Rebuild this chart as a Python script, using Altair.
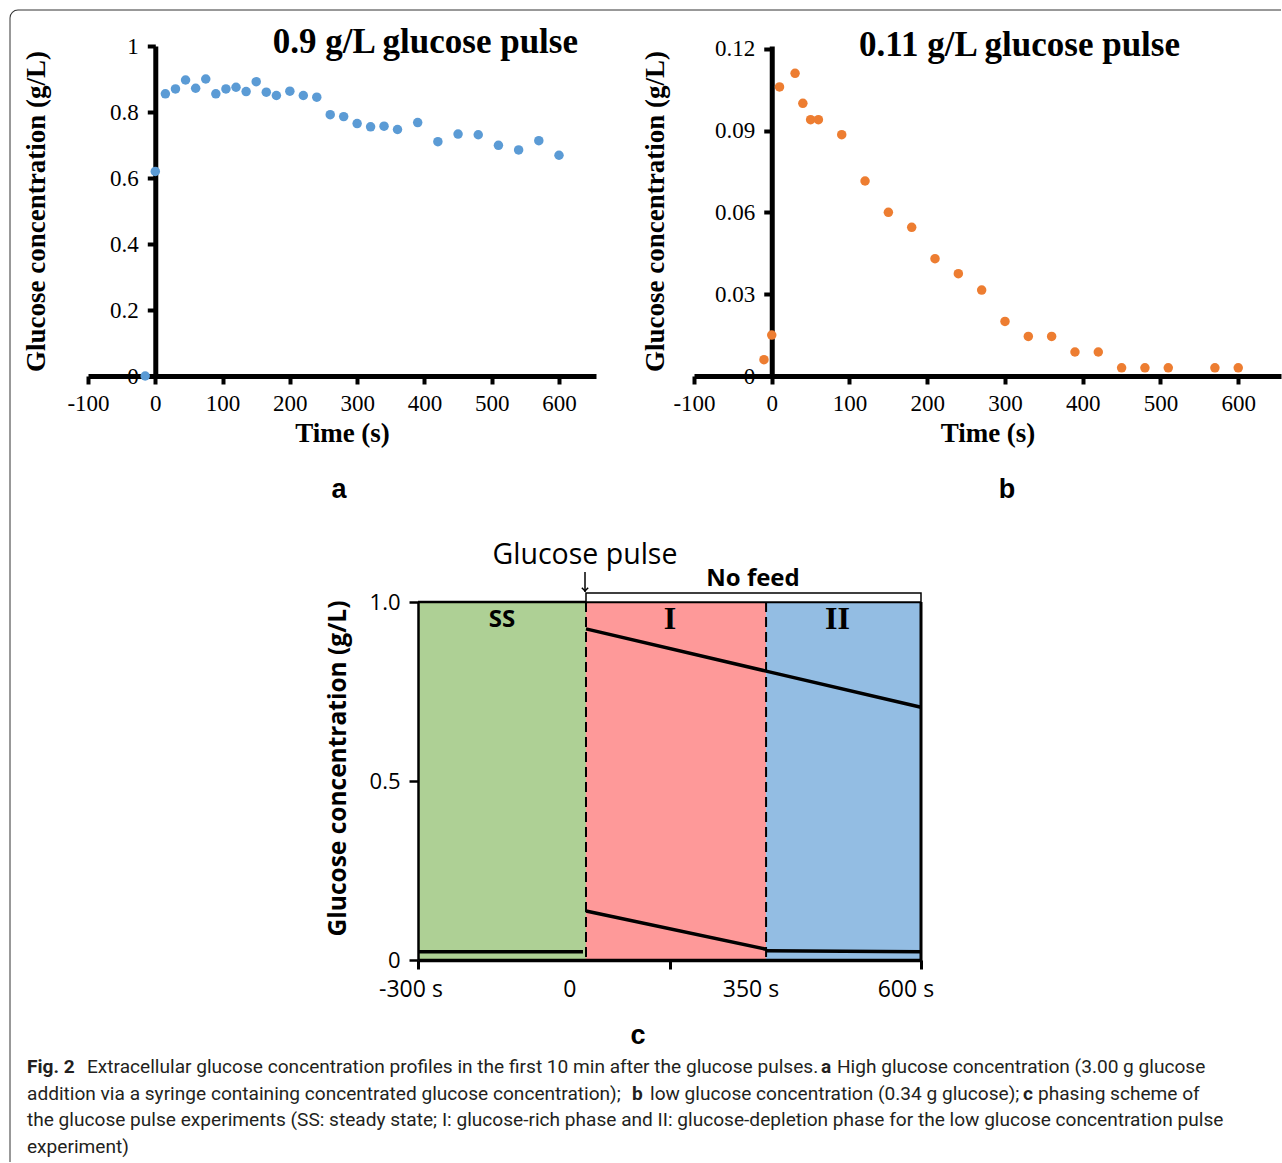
import altair as alt
import pandas as pd

# ---------------- data ----------------
# panel a : 0.9 g/L glucose pulse
time_a = [-15, 0, 15, 30, 45, 60, 75, 90, 105, 120, 135, 150, 165, 180, 200, 220, 240,
          260, 280, 300, 320, 340, 360, 390, 420, 450, 480, 510, 540, 570, 600]
glucose_a = [0.0, 0.62, 0.855, 0.87, 0.897, 0.872, 0.9, 0.855, 0.87, 0.875, 0.862, 0.892,
             0.86, 0.85, 0.863, 0.85, 0.845, 0.792, 0.786, 0.765, 0.755, 0.757, 0.747,
             0.768, 0.71, 0.733, 0.731, 0.699, 0.685, 0.713, 0.669]
# panel b : 0.11 g/L glucose pulse
time_b = [-10, 0, 10, 30, 40, 50, 60, 90, 120, 150, 180, 210, 240, 270, 300, 330, 360,
          390, 420, 450, 480, 510, 570, 600]
glucose_b = [0.006, 0.015, 0.106, 0.111, 0.100, 0.094, 0.094, 0.0885, 0.0715, 0.060,
             0.0545, 0.043, 0.0375, 0.0315, 0.020, 0.0145, 0.0145, 0.0088, 0.0088,
             0.003, 0.003, 0.003, 0.003, 0.003]
time_ticks = [-100, 0, 100, 200, 300, 400, 500, 600]
conc_ticks_a = [0, 0.2, 0.4, 0.6, 0.8, 1]
conc_ticks_b = [0, 0.03, 0.06, 0.09, 0.12]

# panel c : phasing scheme (schematic position 0-100 along the time axis)
phase_names = ["SS", "I", "II"]
phase_start = [0, 33.4, 69.2]
phase_end = [33.4, 69.2, 100]
phase_colors = ["#aed095", "#fe9999", "#93bde3"]
phase_boundaries = [33.4, 69.2]
profile_ids = ["ss", "ss", "high", "high", "high", "low", "low", "low_ii", "low_ii"]
profile_pos = [0, 32.8, 33.4, 69.2, 100, 33.4, 69.2, 69.2, 100]
profile_conc = [0.023, 0.023, 0.925, 0.807, 0.706, 0.137, 0.030, 0.026, 0.023]
scheme_tick_pos = [0, 50, 100]
scheme_tick_labels = ["-300 s", "0", "350 s", "600 s"]
scheme_tick_label_pos = [-1.4, 30.2, 66.2, 97.0]

caption_lines = [
    [("Fig. 2", True), ("Extracellular glucose concentration profiles in the first 10 min after the glucose pulses.", False),
     ("a", True), ("High glucose concentration (3.00 g glucose", False)],
    [("addition via a syringe containing concentrated glucose concentration);", False), ("b", True),
     ("low glucose concentration (0.34 g glucose);", False), ("c", True), ("phasing scheme of", False)],
    [("the glucose pulse experiments (SS: steady state; I: glucose-rich phase and II: glucose-depletion phase for the low glucose concentration pulse", False)],
    [("experiment)", False)],
]
caption_x = [[27, 87, 821, 837], [27, 632, 650, 1023, 1038], [27], [27]]

# ---------------- layout constants (page pixels) ----------------
SERIF = "Liberation Serif"
SANS = "Open Sans"
CAP = "Roboto"
XDOM = [-100, 655]
W_A, W_B, H_AB = 508, 587, 330
A_X0, A_Y0 = 88, 46
B_X0 = 694
W_C, H_C = 503, 358
C_X0, C_Y0 = 418, 602

one = pd.DataFrame({"k": [0]})


def scatter_panel(times, vals, ydom, yticks, color, width, x0, title, title_right, title_base,
                  letter, letter_x, ytitle_x):
    df = pd.DataFrame({"t": times, "g": vals})
    zero_px = width * (0 - XDOM[0]) / (XDOM[1] - XDOM[0])
    x = alt.X("t:Q", scale=alt.Scale(domain=XDOM, nice=False, zero=False),
              axis=alt.Axis(values=time_ticks, title="Time (s)", labelExpr="datum.value + ''",
                            domainWidth=5, domainColor="black", tickColor="black", tickWidth=4,
                            tickSize=8, labelFont=SERIF, labelFontSize=23, labelColor="black",
                            labelPadding=8, titleFont=SERIF, titleFontSize=27, titleFontWeight="bold",
                            titleColor="black", titlePadding=5, grid=False, labelFlush=False,
                            labelOverlap=False))
    y = alt.Y("g:Q", scale=alt.Scale(domain=ydom, nice=False, zero=False),
              axis=alt.Axis(values=yticks, title="Glucose concentration (g/L)", labelExpr="datum.value + ''",
                            offset=-zero_px, domainWidth=5, domainColor="black", tickColor="black",
                            tickWidth=4, tickSize=8, labelFont=SERIF, labelFontSize=23, labelColor="black",
                            labelPadding=9, titleFont=SERIF, titleFontSize=27, titleFontWeight="bold",
                            titleColor="black", titleX=ytitle_x, titleBaseline="middle", grid=False,
                            labelFlush=False, labelOverlap=False))
    pts = alt.Chart(df).mark_circle(size=90, opacity=1, color=color).encode(x=x, y=y)
    ttl = alt.Chart(one).mark_text(text=title, font=SERIF, fontSize=35, fontWeight="bold",
                                   align="right", baseline="alphabetic", color="black").encode(
        x=alt.value(title_right - x0), y=alt.value(title_base - A_Y0))
    let = alt.Chart(one).mark_text(text=letter, font="Liberation Sans", fontSize=27, fontWeight="bold",
                                   align="center", baseline="alphabetic", color="black").encode(
        x=alt.value(letter_x - x0), y=alt.value(498 - A_Y0))
    return pts, ttl, let


pts_a, ttl_a, let_a = scatter_panel(time_a, glucose_a, [0, 1], conc_ticks_a, "#5b9bd5", W_A, A_X0,
                                    "0.9 g/L glucose pulse", 578, 53, "a", 339, 37 - 156)
pts_b, ttl_b, let_b = scatter_panel(time_b, glucose_b, [0, 0.121], conc_ticks_b, "#ed7d31", W_B, B_X0,
                                    "0.11 g/L glucose pulse", 1180, 56, "b", 1007, 655 - 771)

# page frame (top and left edges with rounded corner), drawn from panel a
frame_top = alt.Chart(one).mark_rule(color="#333", strokeWidth=1).encode(
    x=alt.value(18 - A_X0), x2=alt.value(1281 - A_X0), y=alt.value(10 - A_Y0))
frame_left = alt.Chart(one).mark_rule(color="#333", strokeWidth=1).encode(
    x=alt.value(10 - A_X0), y=alt.value(18 - A_Y0), y2=alt.value(1162 - A_Y0))
frame_corner = alt.Chart(one).mark_arc(radius=8.5, radius2=7.5, theta=4.7124, theta2=6.2832,
                                       color="#333").encode(
    x=alt.value(18 - A_X0), y=alt.value(18 - A_Y0))

panel_a = alt.layer(frame_top, frame_left, frame_corner, pts_a, ttl_a, let_a).properties(
    width=W_A, height=H_AB)
panel_b = alt.layer(pts_b, ttl_b, let_b).properties(width=W_B, height=H_AB)

# ---------------- panel c ----------------
phases = pd.DataFrame({"phase": phase_names, "start": phase_start, "end": phase_end})
bounds_df = pd.DataFrame({"pos": phase_boundaries})
profiles = pd.DataFrame({"id": profile_ids, "pos": profile_pos, "conc": profile_conc,
                         "idx": list(range(len(profile_ids)))})
tick_lab = pd.DataFrame({"pos": scheme_tick_label_pos, "lab": scheme_tick_labels})

xs = alt.Scale(domain=[0, 100], nice=False, zero=False)
ys = alt.Scale(domain=[0, 1], nice=False, zero=False)
x_axis_c = alt.Axis(values=scheme_tick_pos, labels=False, title=None, domainWidth=3.5,
                    domainColor="black", tickColor="black", tickWidth=3, tickSize=9, grid=False, zindex=2)
y_axis_c = alt.Axis(values=[0, 0.5, 1], labelExpr="datum.value == 0 ? '0' : format(datum.value, '.1f')",
                    title="Glucose concentration (g/L)", domainWidth=2.5, domainColor="black",
                    tickColor="black", tickWidth=2.5, tickSize=9, labelFont=SANS, labelFontSize=22,
                    labelColor="black", labelPadding=9, titleFont=SANS, titleFontSize=24.5,
                    titleFontWeight="bold", titleColor="black", titleX=338 - C_X0, titleY=768 - C_Y0,
                    titleBaseline="middle", grid=False, zindex=2)


def xc(field):
    return alt.X(field, scale=xs, axis=x_axis_c)


rects = alt.Chart(phases).mark_rect(opacity=1).encode(
    x=xc("start:Q"), x2="end:Q", y=alt.value(0), y2=alt.value(H_C),
    color=alt.Color("phase:N", scale=alt.Scale(domain=phase_names, range=phase_colors), legend=None))
dashes = alt.Chart(bounds_df).mark_rule(color="black", strokeWidth=2, strokeDash=[10, 5]).encode(
    x=xc("pos:Q"), y=alt.value(0), y2=alt.value(H_C))
lines = alt.Chart(profiles).mark_line(color="black", strokeWidth=3.5).encode(
    x=xc("pos:Q"), y=alt.Y("conc:Q", scale=ys, axis=y_axis_c), detail="id:N", order="idx:Q")
top_rule = alt.Chart(one).mark_rule(color="black", strokeWidth=2.5).encode(
    x=alt.value(0), x2=alt.value(W_C), y=alt.value(0))
right_rule = alt.Chart(one).mark_rule(color="black", strokeWidth=3).encode(
    x=alt.value(W_C), y=alt.value(0), y2=alt.value(H_C + 1))
bracket = alt.Chart(phases[phases.phase != "SS"]).mark_rect(fill="white", stroke="black", strokeWidth=1.5).encode(
    x=alt.X("min(start):Q", scale=xs, axis=x_axis_c), x2="max(end):Q", y=alt.value(-9), y2=alt.value(0))
ss_label = alt.Chart(phases).transform_filter("datum.phase == 'SS'").transform_calculate(
    mid="(datum.start + datum.end) / 2").mark_text(font=SANS, fontSize=24, fontWeight="bold",
                                                   color="black", baseline="middle").encode(
    x=xc("mid:Q"), y=alt.value(620 - C_Y0), text="phase:N")
roman_label = alt.Chart(phases).transform_filter("datum.phase != 'SS'").transform_calculate(
    mid="(datum.start + datum.end) / 2").mark_text(font=SERIF, fontSize=32, fontWeight="bold",
                                                   color="black", baseline="middle", dx=-6).encode(
    x=xc("mid:Q"), y=alt.value(619 - C_Y0), text="phase:N")
tick_text = alt.Chart(tick_lab).mark_text(font=SANS, fontSize=23, color="black", baseline="middle").encode(
    x=xc("pos:Q"), y=alt.value(990 - C_Y0), text="lab:N")
pulse_text = alt.Chart(one).mark_text(text="Glucose pulse", font=SANS, fontSize=28.5, color="black",
                                      baseline="middle").encode(x=alt.value(585 - C_X0), y=alt.value(555 - C_Y0))
arrow_stem = alt.Chart(one).mark_rule(color="black", strokeWidth=1.5).encode(
    x=alt.value(585 - C_X0), y=alt.value(572 - C_Y0), y2=alt.value(592 - C_Y0))
arrow_head = alt.Chart(one).mark_point(shape="M-1,-1L0,0L1,-1", size=40, filled=False, color="black",
                                       strokeWidth=1.5, opacity=1).encode(
    x=alt.value(585 - C_X0), y=alt.value(591 - C_Y0))
nofeed = alt.Chart(one).mark_text(text="No feed", font=SANS, fontSize=24, fontWeight="bold", color="black",
                                  baseline="middle").encode(x=alt.value(753 - C_X0), y=alt.value(579 - C_Y0))
letter_c = alt.Chart(one).mark_text(text="c", font="Liberation Sans", fontSize=27, fontWeight="bold",
                                    color="black", baseline="alphabetic").encode(
    x=alt.value(638 - C_X0), y=alt.value(1044 - C_Y0))

caption_layers = []
for li, segs in enumerate(caption_lines):
    base_y = 1073 + li * 26.5
    for (txt, bold), px in zip(segs, caption_x[li]):
        caption_layers.append(
            alt.Chart(one).mark_text(text=txt, font=CAP, fontSize=19.1, fontWeight="bold" if bold else "normal",
                                     color="#231f20", align="left", baseline="alphabetic").encode(
                x=alt.value(px - C_X0), y=alt.value(base_y - C_Y0)))

panel_c = alt.layer(rects, dashes, lines, top_rule, right_rule, bracket, ss_label, roman_label, tick_text,
                    pulse_text, arrow_stem, arrow_head, nofeed, letter_c, *caption_layers).properties(
    width=W_C, height=H_C)

spacer = alt.Chart(one).mark_point(opacity=0).encode(x=alt.value(0), y=alt.value(0)).properties(
    width=C_X0 - A_X0, height=10)

row1 = alt.hconcat(panel_a, panel_b, spacing=B_X0 - (A_X0 + W_A), bounds="flush")
row2 = alt.hconcat(spacer, panel_c, spacing=0, bounds="flush")

# nested concat rows count as zero-height under flush bounds, so spacing spans the full row offset
chart = alt.vconcat(row1, row2, spacing=C_Y0 - A_Y0, bounds="flush").properties(
    padding={"left": 9, "top": 9, "right": 0, "bottom": 0}, background="white"
).configure_view(stroke=None)

chart.save("out.html", embed_options={"renderer": "svg", "actions": False})
